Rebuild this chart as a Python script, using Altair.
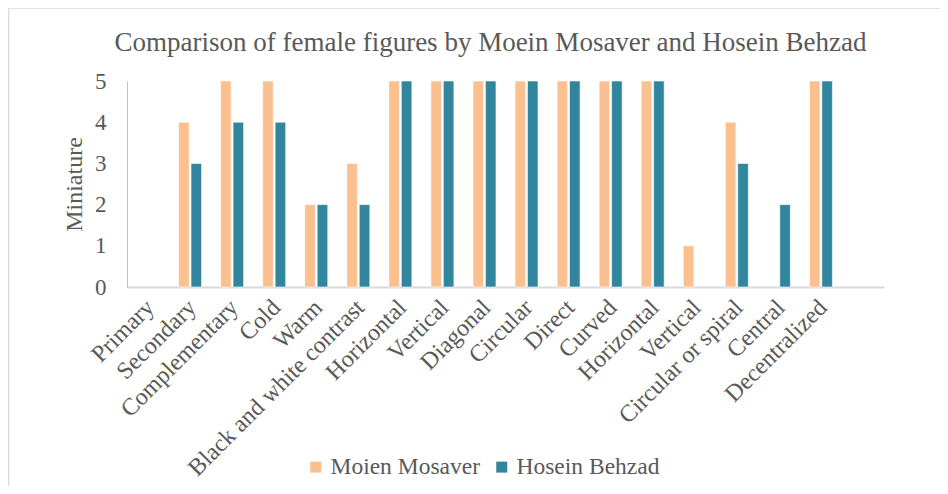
import altair as alt
import pandas as pd

categories = ["Primary", "Secondary", "Complementary", "Cold", "Warm",
              "Black and white contrast", "Horizontal", "Vertical", "Diagonal",
              "Circular", "Direct", "Curved", "Horizontal", "Vertical",
              "Circular or spiral", "Central", "Decentralized", ""]
moien = [0, 4, 5, 5, 2, 3, 5, 5, 5, 5, 5, 5, 5, 1, 4, 0, 5]
hosein = [0, 3, 4, 4, 2, 2, 5, 5, 5, 5, 5, 5, 5, 0, 3, 2, 5]
series = ["Moien Mosaver", "Hosein Behzad"]
colors = ["#FAC090", "#31859C"]

keys = [f"{i:02d}|{c}" for i, c in enumerate(categories)]
rows = []
for i in range(len(moien)):
    rows.append({"key": keys[i], "series": series[0], "value": moien[i]})
    rows.append({"key": keys[i], "series": series[1], "value": hosein[i]})
df = pd.DataFrame(rows)

FONT = "Liberation Serif"
GREY = "#595959"

bars = alt.Chart(df).transform_filter("datum.value > 0").mark_bar(
    stroke="white", strokeWidth=0.6
).encode(
    x=alt.X("key:N", sort=keys,
            scale=alt.Scale(domain=keys, paddingInner=0.453, paddingOuter=0.2265),
            axis=alt.Axis(title=None, labelAngle=-45, labelExpr="split(datum.label, '|')[1]",
                          labelFontSize=24, labelColor=GREY, labelFont=FONT, labelLimit=0,
                          ticks=False, domainColor="#D9D9D9", domainWidth=2,
                          labelPadding=8, labelOffset=-6)),
    xOffset=alt.XOffset("series:N", sort=series,
                        scale=alt.Scale(domain=series, paddingInner=0.15)),
    y=alt.Y("value:Q", scale=alt.Scale(domain=[0, 5]),
            axis=alt.Axis(title="Miniature", values=[0, 1, 2, 3, 4, 5], grid=False, ticks=False,
                          labelFontSize=23, labelColor=GREY, labelFont=FONT, labelPadding=21,
                          titleFont=FONT, titleFontSize=24, titleColor=GREY,
                          titleFontWeight="normal", titlePadding=8,
                          domainColor="#BFBFBF", domainWidth=1)),
    color=alt.Color("series:N", sort=series,
                    scale=alt.Scale(domain=series, range=colors),
                    legend=alt.Legend(title=None, orient="none", direction="horizontal",
                                      legendX=177, legendY=374,
                                      symbolType="square", symbolSize=121,
                                      symbolStrokeWidth=0,
                                      labelFont=FONT, labelFontSize=23.5, labelColor=GREY,
                                      labelOffset=3, columnPadding=10)),
)

edge = pd.DataFrame({"a": [0]})
top_line = alt.Chart(edge).mark_rule(color="#D9D9D9", strokeWidth=1.5, clip=False).encode(
    x=alt.value(-118.5), x2=alt.value(813), y=alt.value(-73)
)
left_line = alt.Chart(edge).mark_rule(color="#D9D9D9", strokeWidth=1.5, clip=False).encode(
    x=alt.value(-118.5), y=alt.value(-73), y2=alt.value(405)
)

chart = alt.layer(top_line, left_line, bars).properties(
    width=757, height=206,
    background="white",
    autosize=alt.AutoSizeParams(type="none"),
    padding={"left": 119, "top": 73, "right": 56, "bottom": 199},
    title=alt.TitleParams("Comparison of female figures by Moein Mosaver and Hosein Behzad",
                          font=FONT, fontSize=27, color=GREY, fontWeight="normal",
                          anchor="middle", dx=-15, offset=-50),
).configure_view(strokeWidth=0, stroke="transparent", strokeOpacity=0).configure_axis(
    labelFont=FONT, titleFont=FONT
).configure_legend(labelFont=FONT)

chart.save("out.html", embed_options={"renderer": "svg", "actions": False})
